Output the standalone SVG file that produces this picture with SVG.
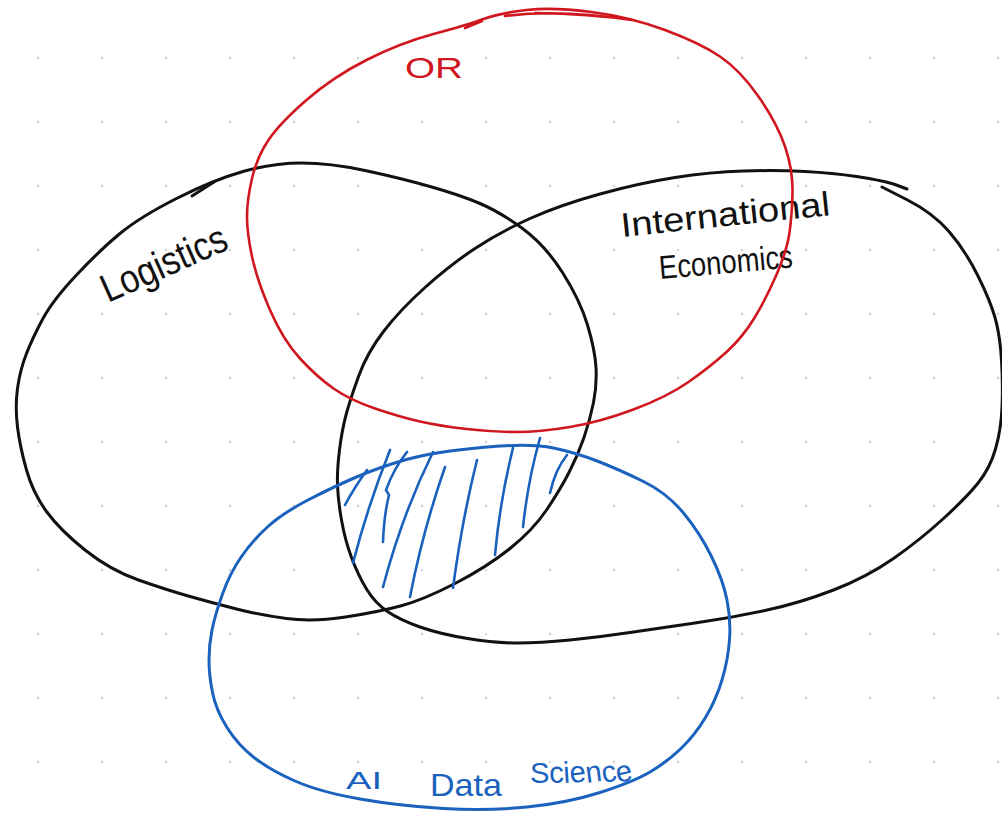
<svg xmlns="http://www.w3.org/2000/svg" width="1002" height="816" viewBox="0 0 1002 816">
  <defs>
    <pattern id="dots" x="6" y="26" width="64" height="64" patternUnits="userSpaceOnUse">
      <circle cx="32" cy="32" r="1.3" fill="#d4d4d4"/>
    </pattern>
  </defs>
  <style>
    .ink { fill: none; stroke-linecap: round; stroke-linejoin: round; }
    .black { stroke: #111111; stroke-width: 3; }
    .red { stroke: #d0161e; stroke-width: 2.6; }
    .blue { stroke: #1a62bd; stroke-width: 3; }
    .hatch { stroke: #1a62bd; stroke-width: 2.6; fill: none; stroke-linecap: round; }
    .lbl { font-family: "Liberation Sans", "DejaVu Sans", sans-serif; }
    .lbl-black { fill: #111111; }
    .lbl-red { fill: #d0161e; }
    .lbl-blue { fill: #1a62bd; }
  </style>
  <rect width="1002" height="816" fill="#ffffff"/>
  <rect width="1002" height="816" fill="url(#dots)"/>

  <g id="logistics">
    <path class="ink black" d="M243,171.5 Q273,163 301.5,163 Q330,163 365,170.5 Q400,178 430,186.5 Q460,195 480,203.5 Q500,212 522.5,228.5 Q545,245 562.5,272.5 Q580,300 587.5,325 Q595,350 596,367.5 Q597,385 593.5,402.5 Q590,420 584,437.5 Q578,455 569,472.5 Q560,490 546.5,510 Q533,530 510,548.5 Q487,567 455,583.5 Q423,600 400.5,606 Q378,612 345.5,617 Q313,622 286.5,618.5 Q260,615 236.5,609 Q213,603 190,596.5 Q167,590 138.5,580 Q110,570 85,550 Q60,530 46.5,511.5 Q33,493 26.5,470 Q20,447 17.5,427 Q15,407 17.5,388.5 Q20,370 26.5,353.5 Q33,337 43,318.5 Q53,300 76.5,275 Q100,250 120,233.5 Q140,217 176.5,198.5 Q213,180 243,171.5 Z"/>
    <path class="ink black" d="M192,196 L214,182"/>
    <text class="lbl lbl-black" x="108" y="303" font-size="40" textLength="134" lengthAdjust="spacingAndGlyphs" transform="rotate(-24 108 303)">Logistics</text>
  </g>

  <g id="international-economics">
    <path class="ink black" d="M882,187 L907.5,200 Q933,213 949,231.5 Q965,250 977.5,275 Q990,300 995,317.5 Q1000,335 1001.5,360 Q1003,385 1002,407.5 Q1001,430 995.5,449 Q990,468 978.5,482.5 Q967,497 943.5,518.5 Q920,540 893.5,558.5 Q867,577 833.5,590 Q800,603 765,610.5 Q730,618 695,623 Q660,628 630,632.5 Q600,637 570,640 Q540,643 517.5,643 Q495,643 467.5,638.5 Q440,634 420,627 Q400,620 387.5,611.5 Q375,603 366.5,589 Q358,575 351.5,557.5 Q345,540 341.5,520 Q338,500 337.5,485 Q337,470 339.5,450 Q342,430 346,415 Q350,400 358.5,376.5 Q367,353 383.5,331.5 Q400,310 425,287.5 Q450,265 475,248.5 Q500,232 530,218.5 Q560,205 600,194 Q640,183 675,177.5 Q710,172 743.5,171 Q777,170 805,171.5 Q833,173 856.5,176.5 Q880,180 893.5,184 L907,189"/>
    <text class="lbl lbl-black" font-size="34" transform="rotate(-6 622 237)" x="622" y="237" textLength="210" lengthAdjust="spacingAndGlyphs">International</text>
    <text class="lbl lbl-black" font-size="33" transform="rotate(-5 660 279)" x="660" y="279" textLength="134" lengthAdjust="spacingAndGlyphs">Economics</text>
  </g>

  <g id="or">
    <path class="ink red" d="M483.5,19 Q500,13 526.5,10 Q553,7 591.5,12 Q630,17 665,30 Q700,43 720,56.5 Q740,70 758.5,96.5 Q777,123 785,146.5 Q793,170 792.5,192.5 Q792,215 789.5,232.5 Q787,250 777,273.5 Q767,297 755,317 Q743,337 726.5,352 Q710,367 688.5,382 Q667,397 633.5,409.5 Q600,422 570,427 Q540,432 516.5,432 Q493,432 466.5,429 Q440,426 420,421.5 Q400,417 375,408.5 Q350,400 333.5,388.5 Q317,377 300,358.5 Q283,340 270,310 Q257,280 252,256.5 Q247,233 247,216.5 Q247,200 252,178.5 Q257,157 268.5,140 Q280,123 306.5,100 Q333,77 366.5,60 Q400,43 433.5,34 Q467,25 483.5,19 Z"/>
    <path class="ink red" stroke-width="1.6" d="M505,16 Q560,9 632,20 Q590,14 535,13"/>
    <path class="ink red" d="M465,28 L482,21"/>
    <text class="lbl lbl-red" x="405" y="78" font-size="30" textLength="58" lengthAdjust="spacingAndGlyphs">OR</text>
  </g>

  <g id="ai-data-science">
    <path class="ink blue" d="M481.5,447.5 Q530,443 553.5,448 Q577,453 598.5,461.5 Q620,470 643.5,481.5 Q667,493 683.5,513 Q700,533 711.5,556.5 Q723,580 727,600 Q731,620 729.5,640 Q728,660 722,680 Q716,700 705.5,717.5 Q695,735 681,748.5 Q667,762 650,772 Q633,782 600,792.5 Q567,803 527,807 Q487,811 443.5,808.5 Q400,806 360,799 Q320,792 295,781 Q270,770 254,757.5 Q238,745 227,727.5 Q216,710 212.5,692.5 Q209,675 209,660 Q209,645 212,630 Q215,615 222.5,594 Q230,573 241.5,556.5 Q253,540 268,526.5 Q283,513 308,500 Q333,487 356.5,477 Q380,467 406.5,459.5 Q433,452 481.5,447.5 Z"/>
    <text class="lbl lbl-blue"><tspan x="346" y="789" font-size="24" textLength="36" lengthAdjust="spacingAndGlyphs">AI</tspan><tspan x="430" y="796" font-size="32" textLength="72" lengthAdjust="spacingAndGlyphs">Data</tspan><tspan x="530" y="783" font-size="30" textLength="104" lengthAdjust="spacingAndGlyphs" rotate="0 -2 -4 -6 -8 -10 -12">Science</tspan></text>
  </g>

  <g id="intersection-hatch">
    <path class="hatch" d="M345,505 Q354,488 367,470"/>
    <path class="hatch" d="M353,563 Q368,505 390,450"/>
    <path class="hatch" d="M383,542 Q384,515 389,495 L386,490 Q394,468 407,452"/>
    <path class="hatch" d="M383,587 Q402,515 433,452"/>
    <path class="hatch" d="M410,597 Q423,530 445,467"/>
    <path class="hatch" d="M453,588 Q462,520 477,460"/>
    <path class="hatch" d="M495,555 Q500,500 513,448"/>
    <path class="hatch" d="M523,527 Q528,480 540,438"/>
    <path class="hatch" d="M550,493 Q555,470 567,455"/>
  </g>
</svg>
